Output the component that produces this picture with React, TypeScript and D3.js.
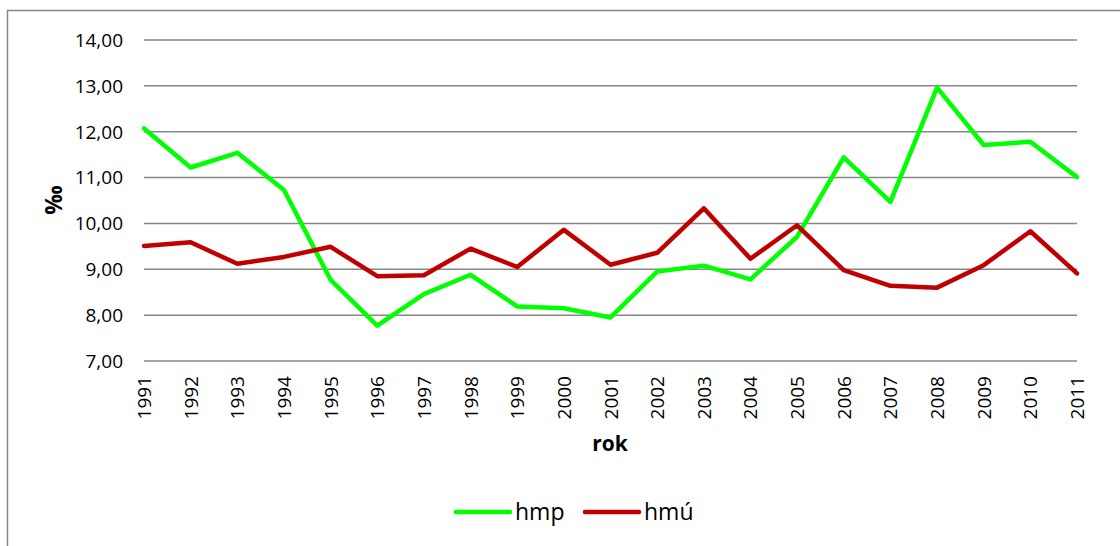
import React from "react";
import * as d3 from "d3";

const years = [1991,1992,1993,1994,1995,1996,1997,1998,1999,2000,2001,2002,2003,2004,2005,2006,2007,2008,2009,2010,2011];
const hmp = [12.07,11.22,11.54,10.73,8.77,7.77,8.46,8.88,8.19,8.15,7.95,8.95,9.08,8.78,9.71,11.44,10.47,12.96,11.71,11.78,11.01];
const hmu = [9.51,9.59,9.12,9.27,9.49,8.85,8.87,9.45,9.05,9.86,9.10,9.36,10.33,9.23,9.96,8.98,8.64,8.60,9.09,9.83,8.91];
const yTicks = [7,8,9,10,11,12,13,14];
const seriesNames = ["hmp", "hmú"];
const seriesColors = ["#00FF00", "#C00000"];

const W = 1120, H = 546;
const L = 144, R = 1077, T = 40, B = 361;
const FONT = "'Open Sans', 'Liberation Sans', sans-serif";

export default function App() {
  const x = d3.scalePoint<number>().domain(years).range([L, R]);
  const y = d3.scaleLinear().domain([7, 14]).range([B, T]);
  const line = d3.line<number>().x((_, i) => x(years[i])!).y(d => y(d));
  const fmt = (v: number) => v.toFixed(2).replace(".", ",");
  const data = [hmp, hmu];
  return (
    <svg width={W} height={H} style={{ position: "absolute", left: 0, top: 0 }}>
      <rect x={0} y={0} width={W} height={H} fill="#fff" />
      <rect x={7.5} y={10.5} width={1130} height={560} fill="#fff" stroke="#868686" strokeWidth={1.5} />
      {yTicks.map(t => (
        <g key={t}>
          <line x1={L} x2={R} y1={y(t)} y2={y(t)} stroke="#868686" strokeWidth={1.5} />
          <text x={123} y={y(t)} dy="0.36em" textAnchor="end" fontFamily={FONT} fontSize={19} fill="#000">{fmt(t)}</text>
        </g>
      ))}
      {years.map(yr => (
        <text key={yr} transform={`translate(${x(yr)! + 7},${376}) rotate(-90)`} textAnchor="end" fontFamily={FONT} fontSize={19} fill="#000">{yr}</text>
      ))}
      {data.map((d, i) => (
        <path key={i} d={line(d)!} fill="none" stroke={seriesColors[i]} strokeWidth={4.5} strokeLinejoin="round" strokeLinecap="round" />
      ))}
      <text transform={`translate(${62},${200}) rotate(-90)`} textAnchor="middle" fontFamily={FONT} fontSize={23} fontWeight="bold" fill="#000">‰</text>
      <text x={610} y={451} textAnchor="middle" fontFamily={FONT} fontSize={21} fontWeight="bold" fill="#000">rok</text>
      {seriesNames.map((n, i) => {
        const x0 = [456, 585][i];
        return (
          <g key={n}>
            <line x1={x0} x2={x0 + 54} y1={512} y2={512} stroke={seriesColors[i]} strokeWidth={4.5} strokeLinecap="round" />
            <text x={x0 + 59} y={512} dy="0.36em" fontFamily={FONT} fontSize={23} fill="#000">{n}</text>
          </g>
        );
      })}
    </svg>
  );
}
